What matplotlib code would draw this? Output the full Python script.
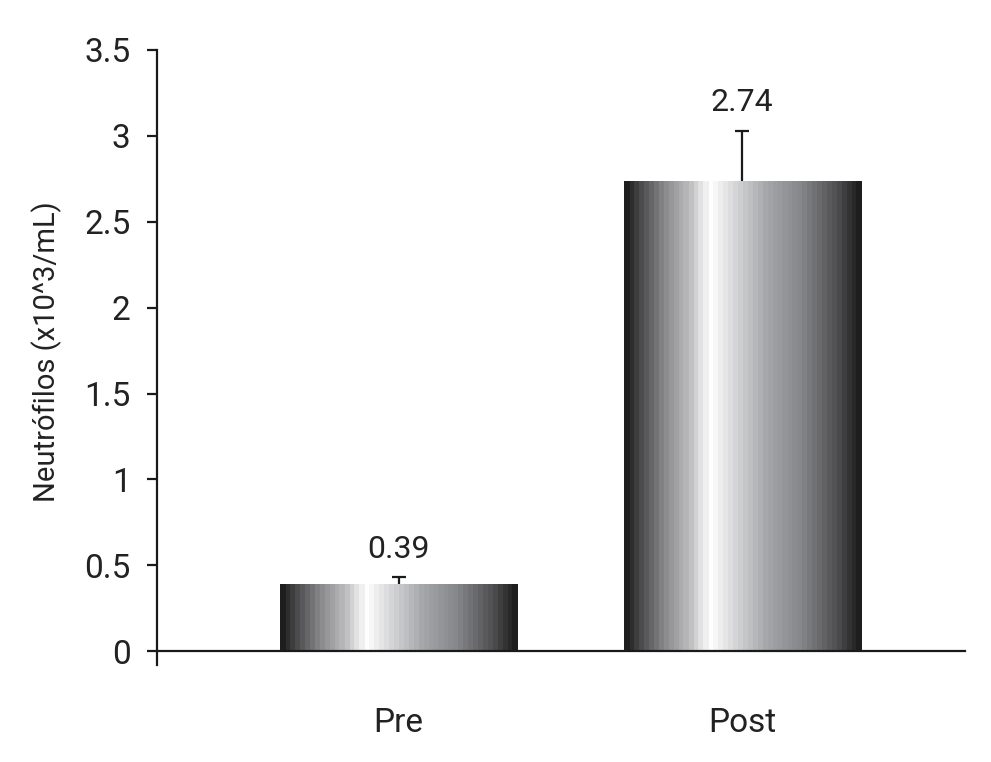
import numpy as np
import matplotlib
matplotlib.use("Agg")
import matplotlib.pyplot as plt
from matplotlib.colors import LinearSegmentedColormap

categories = ["Pre", "Post"]
values = [0.39, 2.74]
errors = [0.04, 0.29]
value_labels = ["0.39", "2.74"]
yticks = [0, 0.5, 1, 1.5, 2, 2.5, 3, 3.5]
ytick_labels = ["0", "0.5", "1", "1.5", "2", "2.5", "3", "3.5"]
ylabel = "Neutrófilos (x10^3/mL)"

FONT = ["Liberation Sans Narrow", "Roboto", "DejaVu Sans"]
plt.rcParams["font.family"] = FONT
plt.rcParams["font.weight"] = "normal"

fig = plt.figure(figsize=(9.91, 7.62), dpi=100)
ax = fig.add_axes([157/991, 1-665/762, (965-157)/991, (665-50)/762])

x = np.arange(len(categories))
bars = ax.bar(x, values, width=0.69, facecolor="none", edgecolor="none", zorder=2)

# metallic gradient
stops = [(0.0, "#1e1e1e"), (0.06, "#4a4a4c"), (0.16, "#88888a"), (0.27, "#bdbdbf"),
         (0.36, "#ffffff"), (0.45, "#dcdcde"), (0.6, "#a6a7aa"), (0.75, "#86878a"),
         (0.9, "#515153"), (1.0, "#1e1e1e")]
cmap = LinearSegmentedColormap.from_list("metal", stops, N=48)
grad = np.linspace(0, 1, 256).reshape(1, -1)
for b in bars:
    x0, y0 = b.get_x(), b.get_y()
    w, h = b.get_width(), b.get_height()
    im = ax.imshow(grad, extent=(x0, x0 + w, y0, y0 + h), aspect="auto",
                   cmap=cmap, zorder=2, interpolation="nearest")
    im.set_clip_path(b)

eb = ax.errorbar(x, values, yerr=[np.zeros(len(values)), errors], fmt="none",
                 ecolor="#1a1a1a", elinewidth=1.6, capsize=5, capthick=1.6, zorder=3)
eb[1][0].set_visible(False)

for xi, v, e, lab in zip(x, values, errors, value_labels):
    ax.annotate(lab, (xi, v + e), xytext=(0, 20), textcoords="offset points",
                ha="center", va="center", fontsize=23, color="#222222")

ax.set_xlim(-0.703, 1.649)
ax.set_ylim(-0.08, 3.5)
ax.set_yticks(yticks)
ax.set_yticklabels(ytick_labels)
ax.set_xticks(x)
ax.set_xticklabels(categories)

for s in ["top", "right"]:
    ax.spines[s].set_visible(False)
ax.spines["bottom"].set_position(("data", 0))
for s in ["left", "bottom"]:
    ax.spines[s].set_linewidth(1.6)
    ax.spines[s].set_color("#1a1a1a")

ax.tick_params(axis="y", direction="out", length=7, width=1.6, color="#1a1a1a",
               labelsize=24, labelcolor="#222222", pad=12)
ax.tick_params(axis="x", length=0, labelsize=24, labelcolor="#222222", pad=40)
ax.set_ylabel(ylabel, fontsize=21, color="#222222")
ax.yaxis.set_label_coords(-0.1176, 0.509)

fig.savefig("out.png", dpi=100, facecolor="white")
